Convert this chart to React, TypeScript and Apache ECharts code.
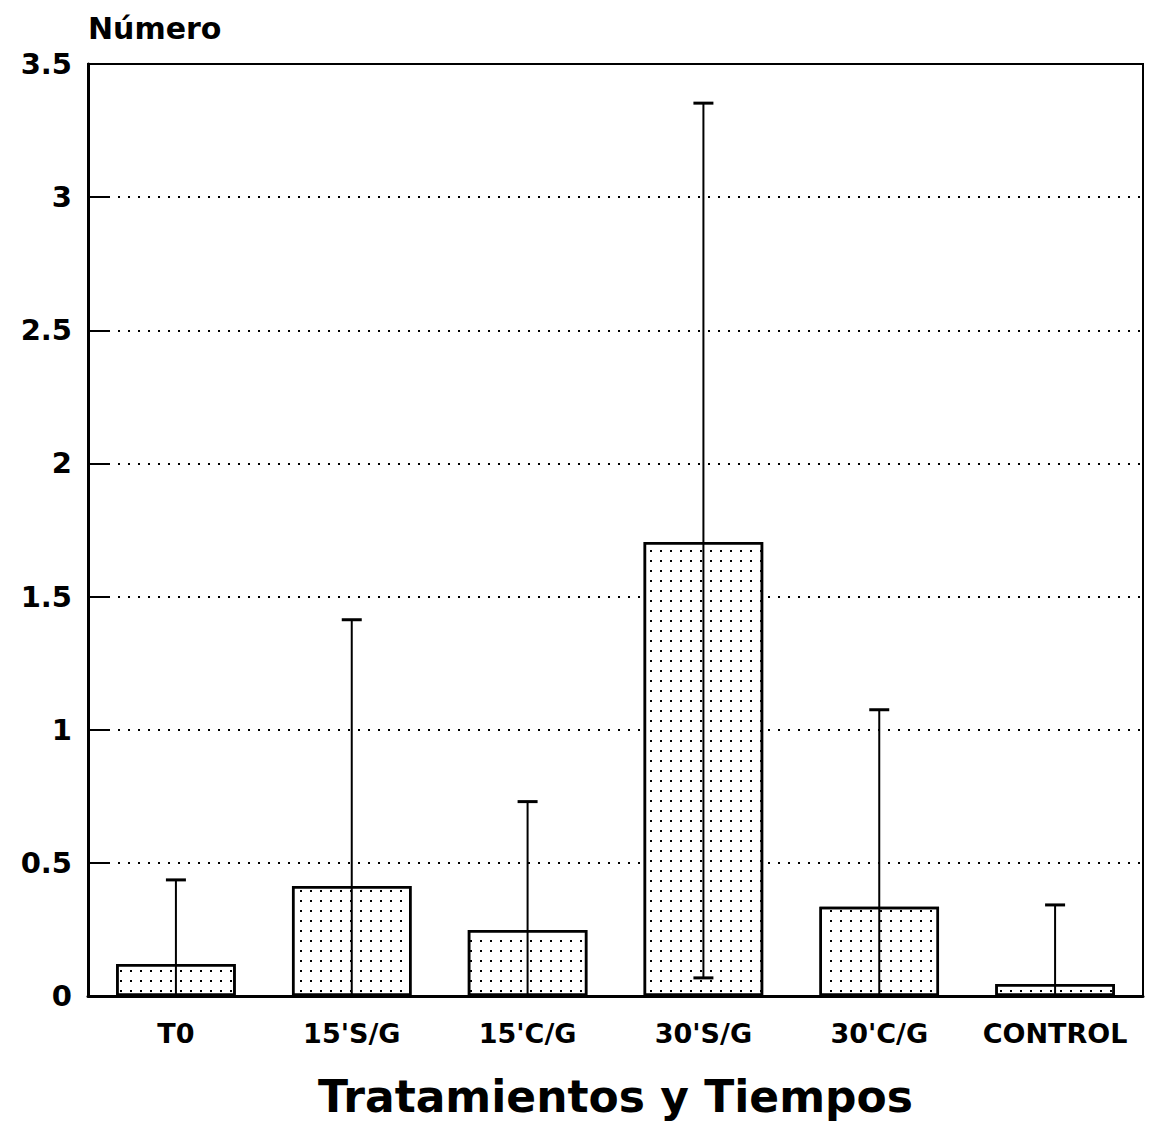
import React, { useEffect, useRef } from "react";
import * as echarts from "echarts";

const categories = ["T0", "15'S/G", "15'C/G", "30'S/G", "30'C/G", "CONTROL"];
const means = [0.12, 0.413, 0.248, 1.705, 0.335, 0.045];
const upper = [0.436, 1.413, 0.73, 3.353, 1.075, 0.342];
const lower = [0, 0, 0, 0.068, 0, 0];
const yTicks = [0, 0.5, 1, 1.5, 2, 2.5, 3, 3.5];

export default function App() {
  const ref = useRef<HTMLDivElement>(null);
  useEffect(() => {
    document.body.style.margin = "0";
    const chart = echarts.init(ref.current!, null, { renderer: "svg" });
    const font = "'DejaVu Sans', Verdana, sans-serif";
    const errData = categories.map((_, i) => [i, lower[i], upper[i]]);
    chart.setOption({
      animation: false,
      backgroundColor: "#fff",
      grid: {
        left: 88,
        right: 7,
        top: 64,
        bottom: 136,
        show: true,
        borderColor: "#000",
        borderWidth: 2,
      },
      graphic: [
        {
          type: "text",
          left: 88,
          top: 13,
          style: { text: "Número", font: `bold 30px ${font}`, fill: "#000" },
        },
      ],
      xAxis: {
        type: "category",
        data: categories,
        name: "Tratamientos y Tiempos",
        nameLocation: "middle",
        nameGap: 78,
        nameTextStyle: {
          fontFamily: font,
          fontWeight: "bold",
          fontSize: 44,
          color: "#000",
        },
        axisLine: { lineStyle: { color: "#000", width: 3 } },
        axisTick: { show: false },
        axisLabel: {
          interval: 0,
          hideOverlap: false,
          fontFamily: font,
          fontWeight: "bold",
          fontSize: 27,
          color: "#000",
          margin: 24,
        },
      },
      yAxis: {
        type: "value",
        min: 0,
        max: 3.5,
        interval: 0.5,
        axisLine: { show: true, lineStyle: { color: "#000", width: 3 } },
        axisTick: {
          show: true,
          inside: true,
          length: 20,
          lineStyle: { color: "#000", width: 2 },
        },
        splitLine: {
          show: true,
          lineStyle: { color: "#000", width: 2, type: [2, 8] },
        },
        axisLabel: {
          fontFamily: font,
          fontWeight: "bold",
          fontSize: 29,
          color: "#000",
          margin: 16,
          formatter: (v: number) => (yTicks.includes(v) ? String(v) : ""),
        },
      },
      series: [
        {
          type: "bar",
          data: means,
          barWidth: "68%",
          itemStyle: {
            color: "#fff",
            borderColor: "#000",
            borderWidth: 2.5,
            decal: {
              symbol: "rect",
              symbolSize: 1,
              color: "#000",
              dashArrayX: [2, 8],
              dashArrayY: [2, 8],
              rotation: 0,
            },
          },
          z: 2,
        },
        {
          type: "custom",
          data: errData,
          z: 5,
          renderItem: (params: any, api: any) => {
            const x = api.value(0);
            const lo = api.coord([x, api.value(1)]);
            const hi = api.coord([x, api.value(2)]);
            const children: any[] = [
              {
                type: "line",
                shape: { x1: hi[0], y1: hi[1], x2: lo[0], y2: lo[1] },
                style: { stroke: "#000", lineWidth: 2 },
              },
              {
                type: "line",
                shape: { x1: hi[0] - 10, y1: hi[1], x2: hi[0] + 10, y2: hi[1] },
                style: { stroke: "#000", lineWidth: 3 },
              },
            ];
            if (api.value(1) > 0) {
              children.push({
                type: "line",
                shape: { x1: lo[0] - 10, y1: lo[1], x2: lo[0] + 10, y2: lo[1] },
                style: { stroke: "#000", lineWidth: 3 },
              });
            }
            return { type: "group", children };
          },
        },
      ],
    });
    return () => chart.dispose();
  }, []);
  return <div ref={ref} style={{ width: 1150, height: 1132 }} />;
}
